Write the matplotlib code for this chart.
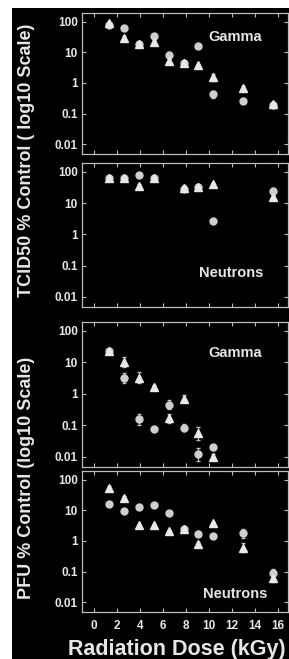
import matplotlib
matplotlib.use("Agg")
import matplotlib.pyplot as plt
import numpy as np
from matplotlib.patches import Rectangle

plt.rcParams['font.family'] = ['Liberation Sans', 'DejaVu Sans']
plt.rcParams['font.weight'] = 'bold'

doses = [1.3, 2.6, 3.9, 5.2, 6.5, 7.8, 9.1, 10.4, 13.0, 15.6]

# TCID50 gamma
tcid_g_circ = [80, 64, 19, 33, 8.4, 4.4, 16, 0.43, 0.25, 0.19]
tcid_g_tri = [88, 30, 19, 21, 5.1, 4.3, 3.7, 1.5, 0.68, 0.21]
tcid_g_err = [1.1, 1.15, 1.1, 1.2, 1.2, 1.1, 1.1, 1.3, 1.15, 1.1]

# TCID50 neutrons
tcid_n_dose = [1.3, 2.6, 3.9, 5.2, 7.8, 9.1, 10.4, 15.6]
tcid_n_circ = [61, 61, 78, 61, 29, 32, 2.6, 24]
tcid_n_tri = [61, 61, 36, 61, 31, 32, 40, 16]
tcid_n_err = [1.1, 1.1, 1.1, 1.15, 1.2, 1.1, 1.1, 1.3]

# PFU gamma
pfu_g_dose = [1.3, 2.6, 3.9, 5.2, 6.5, 7.8, 9.1, 10.4]
pfu_g_circ = [23, 3.2, 0.155, 0.075, 0.45, 0.085, 0.012, 0.02]
pfu_g_tri = [23, 10.3, 3.3, 1.7, 0.17, 0.7, 0.056, 0.01]
pfu_g_err = [1.1, 1.4, 1.5, 1.1, 1.4, 1.3, 1.6, 1.2]

# PFU neutrons
pfu_n_circ = [16, 9.5, 13, 15, 8, 2.5, 1.7, 1.4, 1.8, 0.09]
pfu_n_tri = [55, 26, 3.3, 3.3, 2.1, 2.5, 0.78, 3.8, 0.6, 0.06]
pfu_n_err = [1.1, 1.1, 1.1, 1.1, 1.1, 1.1, 1.2, 1.1, 1.4, 1.3]

yticks = [0.01, 0.1, 1, 10, 100]
ytick_labels = ['0.01', '0.1', '1', '10', '100']
xticks = [0, 2, 4, 6, 8, 10, 12, 14, 16]

W, H = 289, 659
fig = plt.figure(figsize=(W / 100, H / 100), dpi=100, facecolor='white')
fig.patches.append(Rectangle((12 / W, 0), 1 - 12 / W, 1 - 8 / H,
                             transform=fig.transFigure, facecolor='black',
                             edgecolor='none', zorder=-10))

fg = '#e6e6e6'
spine_c = '#bdbdbd'

# (top px, bottom px, doses, circles, triangles, error factors, label, label x, label y)
panels = [
    (13, 154, doses, tcid_g_circ, tcid_g_tri, tcid_g_err, 'Gamma', 0.874, 0.83),
    (163, 307, tcid_n_dose, tcid_n_circ, tcid_n_tri, tcid_n_err, 'Neutrons', 0.879, 0.236),
    (322, 467, pfu_g_dose, pfu_g_circ, pfu_g_tri, pfu_g_err, 'Gamma', 0.874, 0.786),
    (471, 612, doses, pfu_n_circ, pfu_n_tri, pfu_n_err, 'Neutrons', 0.898, 0.128),
]

for i, (top, bot, xd, yc, yt, ye, lab, lx, ly) in enumerate(panels):
    ax = fig.add_axes([82 / W, 1 - bot / H, (288 - 82) / W, (bot - top) / H])
    ax.set_facecolor('black')
    ax.set_yscale('log')
    ax.set_ylim(10 ** -2.32, 10 ** 2.28)
    ax.set_xlim(-1.05, 16.9)
    for s in ax.spines.values():
        s.set_color(spine_c)
        s.set_linewidth(0.9)
    xd = np.array(xd)
    yc = np.array(yc, float)
    yt = np.array(yt, float)
    ye = np.array(ye, float)
    ax.errorbar(xd, yc, yerr=[yc - yc / ye, yc * ye - yc], fmt='o', ms=5,
                color='#cfcfcf', mec='#cfcfcf', ecolor='#bdbdbd', elinewidth=0.8,
                capsize=1.5, zorder=3)
    ax.errorbar(xd, yt, yerr=[yt - yt / ye, yt * ye - yt], fmt='^', ms=5.3,
                color='#e8e8e8', mec='#e8e8e8', ecolor='#bdbdbd', elinewidth=0.8,
                capsize=1.5, zorder=4)
    ax.set_yticks(yticks)
    ax.set_yticklabels(ytick_labels)
    ax.yaxis.set_minor_locator(matplotlib.ticker.NullLocator())
    ax.set_xticks(xticks)
    ax.tick_params(axis='both', which='both', direction='in', length=3, width=0.8,
                   colors=spine_c, top=True, right=True, labelcolor=fg,
                   labelsize=8.5, pad=3)
    for t in ax.get_yticklabels():
        t.set_fontweight('bold')
    if i < 3:
        ax.tick_params(axis='x', labelbottom=False)
    else:
        for t in ax.get_xticklabels():
            t.set_fontweight('bold')
        ax.tick_params(axis='x', pad=6)
    ax.text(lx, ly, lab, transform=ax.transAxes, ha='right', va='center',
            color=fg, fontsize=10.5, fontweight='bold')

fig.text(27 / W, 1 - 160 / H, 'TCID50 % Control ( log10 Scale)', rotation=90,
         ha='center', va='center', color=fg, fontsize=13, fontweight='bold')
fig.text(27 / W, 1 - 478 / H, 'PFU % Control (log10 Scale)', rotation=90,
         ha='center', va='center', color=fg, fontsize=13, fontweight='bold')
fig.text(286 / W, 1 - 650 / H, 'Radiation Dose (kGy)', ha='right', va='center',
         color=fg, fontsize=15.5, fontweight='bold')

fig.savefig('out.png', dpi=100, facecolor='white')
